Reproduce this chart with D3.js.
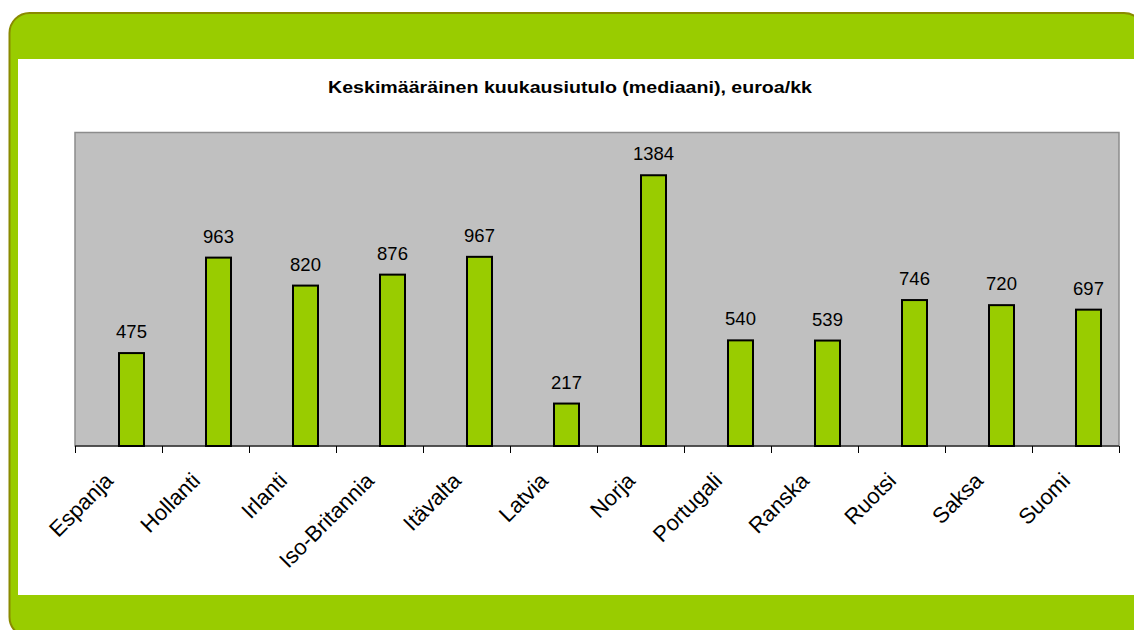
<!DOCTYPE html>
<html>
<head>
<meta charset="utf-8">
<script src="https://cdn.jsdelivr.net/npm/d3@7"></script>
<style>
  body { margin: 0; background: #fff; }
  text { font-family: Arial, "Liberation Sans", sans-serif; }
</style>
</head>
<body>
<div id="vis"></div>
<script>
(function () {
  'use strict';

  var TITLE = 'Keskimääräinen kuukausiutulo (mediaani), euroa/kk';
  var COUNTRIES = ['Espanja', 'Hollanti', 'Irlanti', 'Iso-Britannia', 'Itävalta', 'Latvia',
    'Norja', 'Portugali', 'Ranska', 'Ruotsi', 'Saksa', 'Suomi'];
  var INCOME = [475, 963, 820, 876, 967, 217, 1384, 540, 539, 746, 720, 697];
  var Y_DOMAIN = [0, 1600];

  var WIDTH = 1134;
  var HEIGHT = 630;
  var GREEN = '#99cc00';
  var plot = { left: 75, right: 1119, top: 133, bottom: 446 };

  var svg = d3.select('#vis').append('svg')
    .attr('width', WIDTH)
    .attr('height', HEIGHT);

  // frame: rounded green panel with olive edge, white inner area
  svg.append('rect')
    .attr('x', 9.5).attr('y', 13)
    .attr('width', 1134.5).attr('height', 624)
    .attr('rx', 20).attr('ry', 20)
    .attr('fill', GREEN)
    .attr('stroke', '#8a8a00')
    .attr('stroke-width', 2);
  svg.append('rect')
    .attr('x', 18).attr('y', 59)
    .attr('width', WIDTH - 18).attr('height', 536)
    .attr('fill', '#fff');

  // the title is drawn wide in the original, so fit it to its measured length
  svg.append('text')
    .attr('x', 570).attr('y', 93)
    .attr('text-anchor', 'middle')
    .attr('font-size', 16.5)
    .attr('font-weight', 'bold')
    .attr('fill', '#000')
    .attr('textLength', 484)
    .attr('lengthAdjust', 'spacingAndGlyphs')
    .text(TITLE);

  var x = d3.scaleBand()
    .domain(COUNTRIES)
    .range([plot.left, plot.right])
    .paddingInner(0).paddingOuter(0);
  var y = d3.scaleLinear().domain(Y_DOMAIN).range([plot.bottom, plot.top]);

  // plot area
  svg.append('rect')
    .attr('x', plot.left).attr('y', plot.top - 0.5)
    .attr('width', plot.right - plot.left).attr('height', plot.bottom - plot.top + 0.5)
    .attr('fill', '#c0c0c0')
    .attr('stroke', '#8c8c8c')
    .attr('stroke-width', 1.5);

  // bars sit right of band centre, as in the original
  var BAR_OFFSET = 44;
  var BAR_W = 25;
  var bars = svg.append('g');
  bars.selectAll('rect')
    .data(INCOME)
    .enter().append('rect')
    .attr('x', function (d, i) { return x(COUNTRIES[i]) + BAR_OFFSET; })
    .attr('y', function (d) { return y(d); })
    .attr('width', BAR_W)
    .attr('height', function (d) { return y(0) - y(d); })
    .attr('fill', GREEN)
    .attr('stroke', '#000')
    .attr('stroke-width', 2);

  bars.selectAll('text')
    .data(INCOME)
    .enter().append('text')
    .attr('x', function (d, i) { return x(COUNTRIES[i]) + BAR_OFFSET + BAR_W / 2; })
    .attr('y', function (d) { return y(d) - 15; })
    .attr('text-anchor', 'middle')
    .attr('font-size', 18.5)
    .attr('fill', '#000')
    .text(function (d) { return d; });

  // x axis with ticks on band edges
  var axis = svg.append('g');
  axis.append('line')
    .attr('x1', plot.left).attr('x2', plot.right)
    .attr('y1', plot.bottom).attr('y2', plot.bottom)
    .attr('stroke', '#000').attr('stroke-width', 1);
  var edges = COUNTRIES.map(function (c) { return x(c); }).concat([plot.right]);
  axis.selectAll('.tick')
    .data(edges)
    .enter().append('line')
    .attr('x1', function (d) { return Math.round(d) + 0.5; })
    .attr('x2', function (d) { return Math.round(d) + 0.5; })
    .attr('y1', plot.bottom).attr('y2', plot.bottom + 7)
    .attr('stroke', '#000').attr('stroke-width', 1);

  axis.selectAll('.lbl')
    .data(COUNTRIES)
    .enter().append('text')
    .attr('transform', function (d) {
      return 'translate(' + (x(d) + x.bandwidth() / 2 - 4) + ',' + (plot.bottom + 36) + ') rotate(-45)';
    })
    .attr('text-anchor', 'end')
    .attr('font-size', 22)
    .attr('fill', '#000')
    .text(function (d) { return d; });
})();
</script>
</body>
</html>
